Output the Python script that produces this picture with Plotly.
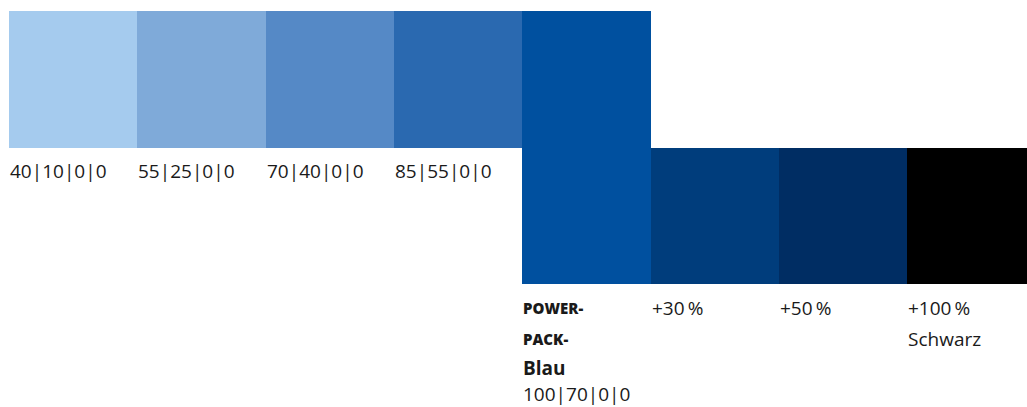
import plotly.graph_objects as go

# ---- data ----
swatch_labels = ["40|10|0|0", "55|25|0|0", "70|40|0|0", "85|55|0|0",
                 "100|70|0|0", "+30\u2009%", "+50\u2009%", "+100\u2009%"]
swatch_rows = ["top", "top", "top", "top", "both", "bottom", "bottom", "bottom"]
swatch_colors = ["#a5cbee", "#7faad9", "#5589c6", "#2a69b0",
                 "#00509f", "#003d7c", "#002d63", "#000000"]
extra_lines = {7: ["Schwarz"]}
power_title = ["POWER-", "PACK-", "Blau"]

FONT = "Open Sans"
TXT = "#1a1a1a"

idx = list(range(len(swatch_labels)))
base_map = {"top": 0, "both": -1, "bottom": -1}
height_map = {"top": 1, "both": 2, "bottom": 1}

fig = go.Figure(go.Bar(
    x=idx,
    y=[height_map[r] for r in swatch_rows],
    base=[base_map[r] for r in swatch_rows],
    marker=dict(color=swatch_colors, line=dict(width=0)),
    width=1,
    hoverinfo="skip",
))

ann = []
for i, (lab, row) in enumerate(zip(swatch_labels, swatch_rows)):
    if row == "top":
        ann.append(dict(x=i - 0.5, y=0, text=lab, yshift=-23))
    elif row == "bottom":
        ann.append(dict(x=i - 0.5, y=-1, text=lab, yshift=-23.5))
        for k, extra in enumerate(extra_lines.get(i, [])):
            ann.append(dict(x=i - 0.5, y=-1, text=extra, yshift=-54.5 - 29 * k))
    else:
        sc = dict(size=15, weight=800)
        ann.append(dict(x=i - 0.5, y=-1, text=power_title[0],
                        yshift=-23.5, font=sc))
        ann.append(dict(x=i - 0.5, y=-1, text=power_title[1],
                        yshift=-54.5, font=sc))
        ann.append(dict(x=i - 0.5, y=-1, text="<b>" + power_title[2] + "</b>",
                        yshift=-83.5, font=dict(weight=700)))
        ann.append(dict(x=i - 0.5, y=-1, text=lab, yshift=-110))

for a in ann:
    a.update(xref="x", yref="y", xanchor="left", yanchor="middle",
             showarrow=False, xshift=0, borderpad=0)
    f = dict(family=FONT, size=19, color=TXT)
    f.update(a.get("font", {}))
    a["font"] = f

fig.update_layout(
    width=1027, height=407,
    margin=dict(l=0, r=0, t=0, b=0),
    paper_bgcolor="white", plot_bgcolor="white",
    bargap=0, showlegend=False,
    xaxis=dict(range=[-0.570, 7.434], visible=False, fixedrange=True),
    yaxis=dict(range=[-1.897, 1.0806], visible=False, fixedrange=True),
    annotations=ann,
)

fig.write_html("out.html", config={"displayModeBar": False},
               post_script="document.body.style.margin='0';document.body.style.overflow='hidden';")
